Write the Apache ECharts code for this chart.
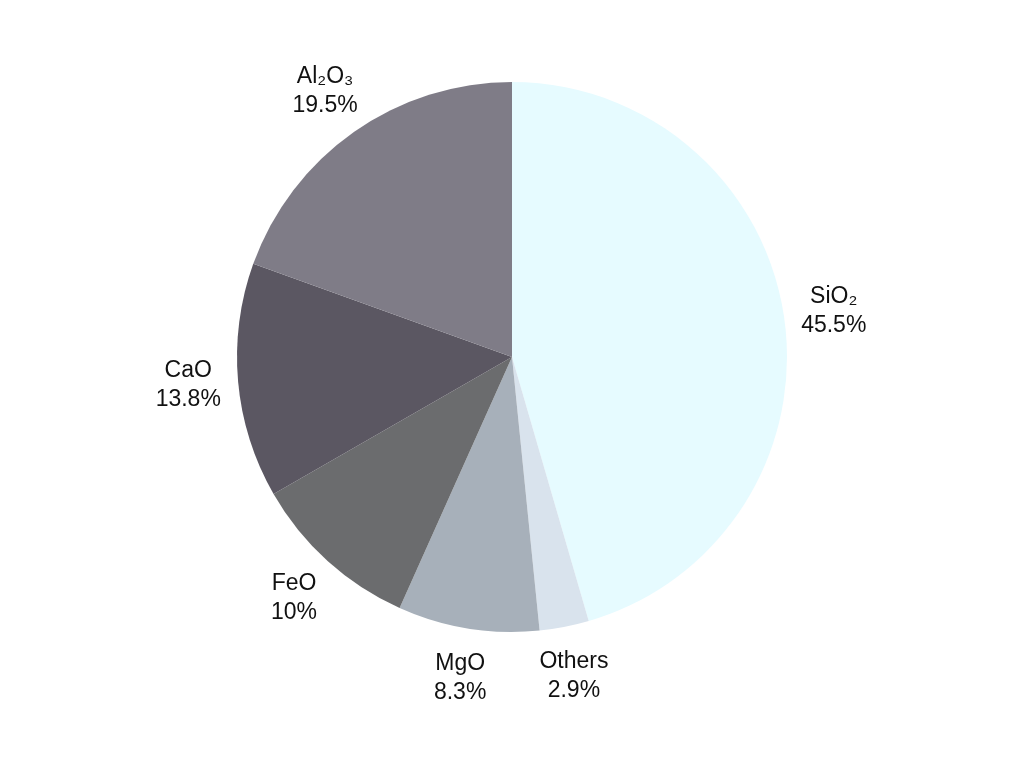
<!DOCTYPE html>
<html>
<head>
<meta charset="utf-8">
<script src="https://cdn.jsdelivr.net/npm/echarts@6/dist/echarts.min.js"></script>
<style>html,body{margin:0;padding:0;background:#fff}#c{width:1024px;height:768px}</style>
</head>
<body>
<div id="c"></div>
<script>
const categories = ['SiO₂', 'Others', 'MgO', 'FeO', 'CaO', 'Al₂O₃'];
const values = [45.5, 2.9, 8.3, 10, 13.8, 19.5];
const colors = ['#e6fbff', '#d9e3ed', '#a7b0ba', '#6b6c6e', '#5b5762', '#7f7c87'];

const data = categories.map((c, i) => ({ name: c, value: values[i], itemStyle: { color: colors[i] } }));
const ghost = categories.map((c, i) => ({ name: c, value: values[i] }));

const chart = echarts.init(document.getElementById('c'), null, { renderer: 'canvas' });
chart.setOption({
  backgroundColor: '#ffffff',
  animation: false,
  series: [
    {
      type: 'pie',
      center: [512, 357],
      radius: [0, 275],
      startAngle: 90,
      clockwise: true,
      data: data,
      label: { show: false },
      labelLine: { show: false },
      emphasis: { disabled: true },
      silent: true
    },
    {
      type: 'pie',
      center: [512, 357],
      radius: [321, 323],
      startAngle: 90,
      clockwise: true,
      data: ghost,
      itemStyle: { color: 'rgba(0,0,0,0)' },
      label: {
        show: true,
        position: 'inside',
        formatter: p => p.name + '\n' + p.value + '%',
        color: '#111111',
        fontFamily: 'Liberation Sans, Arial, sans-serif',
        fontSize: 23,
        lineHeight: 29,
        align: 'center'
      },
      labelLine: { show: false },
      emphasis: { disabled: true },
      silent: true
    }
  ]
});
</script>
</body>
</html>
